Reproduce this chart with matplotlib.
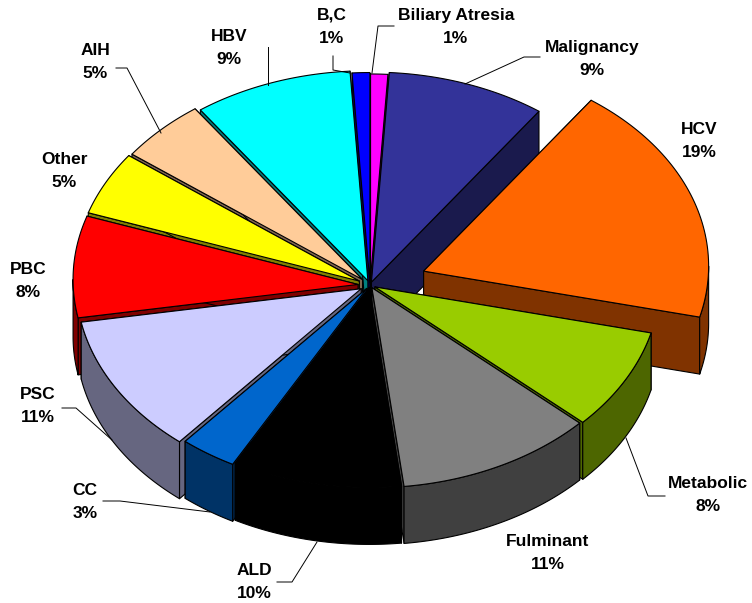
import numpy as np
import matplotlib
matplotlib.use('Agg')
import matplotlib.pyplot as plt
from matplotlib.patches import Polygon

# clockwise from 12 o'clock (labels show them rounded)
names = ['Biliary Atresia', 'Malignancy', 'HCV', 'Metabolic', 'Fulminant', 'ALD', 'CC',
         'PSC', 'PBC', 'Other', 'AIH', 'HBV', 'B,C']
values = [1, 9, 19, 8, 11.2, 9.6, 3.2, 11, 8, 5, 5, 9, 1]

top_colors = ['#FF00FF', '#333399', '#FF6600', '#99CC00', '#808080', '#000000', '#0066CC',
              '#CCCCFF', '#FF0000', '#FFFF00', '#FFCC99', '#00FFFF', '#0000FF']
side_colors = ['#800080', '#1A1A4D', '#803300', '#4D6600', '#404040', '#000000', '#003366',
               '#666680', '#800000', '#808000', '#806650', '#008080', '#000080']
explode = [0.005, 0.015, 0.2, 0.02, 0.015, 0.012, 0.02, 0.036, 0.042, 0.042, 0.037, 0.022, 0.012]

cx, cy = 370, 280
rx, ry = 285, 205
apex_drop = 5
depth = 57

# label centre, then leader line (None if there is none)
label_pos = {
    'Biliary Atresia': (456, 27), 'Malignancy': (592, 59), 'HCV': (699, 141),
    'Metabolic': (708, 495), 'Fulminant': (548, 553), 'ALD': (254, 582), 'CC': (85, 502),
    'PSC': (38, 406), 'PBC': (28, 281), 'Other': (64, 171), 'AIH': (95, 62),
    'HBV': (229, 48), 'B,C': (332, 27),
}
leaders = {
    'Biliary Atresia': [(394, 26), (378, 26), (372, 73)],
    'Malignancy': [(540, 57), (524, 57), (465, 84)],
    'Metabolic': [(665, 496), (648, 496), (626, 438)],
    'ALD': [(277, 582), (292, 582), (317, 542)],
    'CC': [(103, 501), (120, 501), (210, 512)],
    'PSC': [(62, 408), (76, 408), (112, 440)],
    'AIH': [(116, 68), (127, 68), (161, 133)],
    'HBV': [(268, 47), (268, 85)],
    'B,C': [(333, 56), (333, 70), (350, 73)],
}

fig = plt.figure(figsize=(7.52, 6.03), dpi=100)
ax = fig.add_axes([0, 0, 1, 1])
ax.set_xlim(0, 752)
ax.set_ylim(603, 0)
ax.axis('off')

fractions = np.array(values) / sum(values) * 2 * np.pi
ends = np.cumsum(fractions)
starts = ends - fractions
mids = (starts + ends) / 2
edge = dict(edgecolor='black', linewidth=0.8, joinstyle='round')

# back slices first, front ones painted over them
for i in np.argsort(-np.cos(mids)):
    ox = cx + explode[i] * rx * np.sin(mids[i])
    oy = cy - explode[i] * ry * np.cos(mids[i])
    t = np.linspace(starts[i], ends[i], 60)
    rim = np.column_stack([ox + rx * np.sin(t), oy - ry * np.cos(t)])
    apex = np.array([ox, oy + apex_drop])
    down = np.array([0, depth])
    for p in (rim[0], rim[-1]):
        wall = [apex, p, p + down, apex + down]
        ax.add_patch(Polygon(wall, facecolor=side_colors[i], **edge))
    # outer skin only on the near half of the ellipse
    lo, hi = max(starts[i], np.pi / 2), min(ends[i], 3 * np.pi / 2)
    if lo < hi:
        tf = np.linspace(lo, hi, 60)
        skin = np.column_stack([ox + rx * np.sin(tf), oy - ry * np.cos(tf)])
        ax.add_patch(Polygon(np.vstack([skin, (skin + down)[::-1]]), facecolor=side_colors[i], **edge))
    ax.add_patch(Polygon(np.vstack([apex, rim]), facecolor=top_colors[i], **edge))

for name, value in zip(names, values):
    x, y = label_pos[name]
    ax.text(x, y, f'{name}\n{round(value)}%', ha='center', va='center', fontsize=12.5,
            fontweight='bold', family='Liberation Sans', linespacing=1.7, color='black')
    if name in leaders:
        xs, ys = zip(*leaders[name])
        ax.plot(xs, ys, color='black', linewidth=0.7)

fig.savefig('out.png', dpi=100)
